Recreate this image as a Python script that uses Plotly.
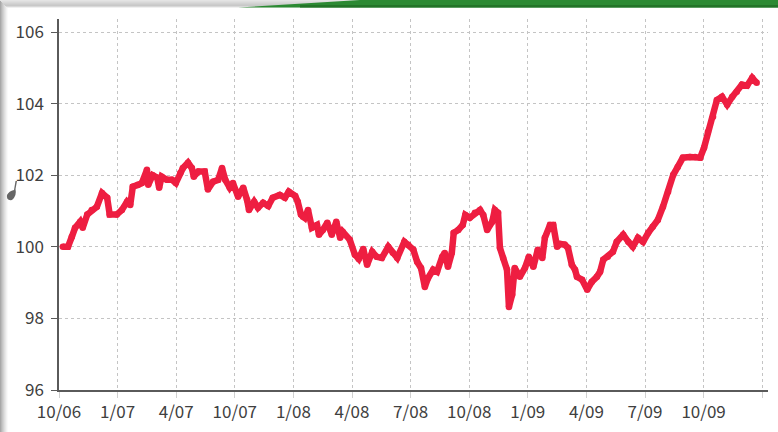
import plotly.graph_objects as go

# Index level, sampled along the period (day offset from the 10/06 start)
day = [6, 14, 20, 25, 33, 37, 44, 51, 59, 67, 75, 79, 90, 98, 106, 111, 115, 123, 129, 137,
       139, 146, 153, 156, 160, 168, 176, 182, 189, 193, 201, 207, 210, 217, 227, 232, 240, 248,
       254, 259, 266, 271, 279, 287, 293, 296, 304, 310, 318, 326, 333, 344, 352, 358, 368, 372,
       377, 380, 383, 388, 394, 402, 405, 411, 418, 425, 432, 438, 442, 453, 461, 467, 474, 480,
       488, 495, 503, 513, 520, 527, 538, 544, 552, 558, 564, 570, 575, 583, 589, 597, 601, 606,
       612, 615, 622, 629, 633, 640, 648, 656, 661, 667, 675, 679, 684, 687, 692, 698, 701, 706,
       710, 718, 726, 732, 739, 746, 753, 757, 765, 770, 776, 781, 788, 793, 799, 804, 807, 815,
       823, 830, 838, 843, 848, 855, 863, 869, 879, 887, 894, 902, 910, 918, 925, 933, 941, 949,
       957, 964, 972, 983, 991, 999, 1005, 1011, 1019, 1025, 1033, 1041, 1049, 1056, 1064, 1072,
       1080, 1087]
index_value = [100.0, 100.0, 100.28, 100.53, 100.70, 100.53, 100.9, 101.03, 101.12, 101.5,
               101.37, 100.9, 100.9, 101.03, 101.26, 101.17, 101.68, 101.73, 101.78, 102.15,
               101.73, 102.0, 101.93, 101.65, 101.96, 101.87, 101.87, 101.78, 102.06, 102.2,
               102.35, 102.2, 101.96, 102.1, 102.1, 101.6, 101.82, 101.87, 102.2, 101.87,
               101.65, 101.78, 101.4, 101.65, 101.31, 101.03, 101.26, 101.09, 101.23, 101.14,
               101.37, 101.45, 101.37, 101.54, 101.42, 101.26, 100.9, 100.84, 100.81, 101.03,
               100.53, 100.61, 100.34, 100.47, 100.67, 100.34, 100.70, 100.25, 100.42, 100.2,
               99.78, 99.66, 99.94, 99.5, 99.86, 99.72, 99.69, 100.0, 99.83, 99.69,
               100.14, 100.06, 99.92, 99.58, 99.41, 98.88, 99.13, 99.36, 99.30, 99.72,
               99.83, 99.44, 99.83, 100.39, 100.47, 100.61, 100.89, 100.81, 100.95, 101.03,
               100.89, 100.47, 100.7, 101.03, 100.95, 99.97, 99.69, 99.36, 98.32, 98.66,
               99.41, 99.16, 99.41, 99.72, 99.44, 99.92, 99.69, 100.25, 100.61, 100.61,
               100.0, 100.08, 100.06, 99.97, 99.5, 99.36, 99.16, 99.08, 98.8, 99.02,
               99.16, 99.3, 99.64, 99.72, 99.86, 100.14, 100.34, 100.14, 100.0, 100.25,
               100.14, 100.39, 100.56, 100.75, 101.12, 101.54, 102.01, 102.23, 102.49, 102.51,
               102.51, 102.49, 102.77, 103.21, 103.63, 104.1, 104.19, 103.97, 104.19, 104.33,
               104.53, 104.5, 104.72, 104.58]

quarter_days = 91.3
tick_labels = ["10/06", "1/07", "4/07", "10/07", "1/08", "4/08", "7/08", "10/08",
               "1/09", "4/09", "7/09", "10/09", ""]
y_ticks = [96, 98, 100, 102, 104, 106]

W, H = 778, 432
L, R, T, B = 59, 10, 19, 42
plot_w, plot_h = W - L - R, H - T - B


def px(x):
    return (x - L) / plot_w


def py(y):
    return (H - B - y) / plot_h


line_red = "#EE1E41"
fig = go.Figure(go.Scatter(
    x=day, y=index_value, mode="lines+markers",
    line=dict(color=line_red, width=6.5),
    marker=dict(color=line_red, size=6.5, line=dict(width=0)),
    hoverinfo="skip", showlegend=False,
))

shapes = []
# page shadow along the left edge and top edge
for i, c in enumerate(["#a8a8a8", "#b8b8b8", "#c6c6c6", "#d2d2d2", "#dedede", "#e8e8e8", "#f2f2f2", "#fafafa"]):
    shapes.append(dict(type="rect", xref="paper", yref="paper", layer="below",
                       x0=px(i), x1=px(i + 1), y0=py(432), y1=py(0),
                       line=dict(width=0), fillcolor=c))
for i, c in enumerate(["#e4e4e4", "#dedede", "#d8d8d8", "#d2d2d2", "#cccccc", "#c8c8c8", "#d8d8d8", "#f0f0f0"]):
    shapes.append(dict(type="rect", xref="paper", yref="paper", layer="below",
                       x0=px(i), x1=px(360), y0=py(i + 1), y1=py(i),
                       line=dict(width=0), fillcolor=c))
# green banner at the top right
shapes.append(dict(type="path", xref="paper", yref="paper",
                   path=f"M {px(238)},{py(7.5)} L {px(360)},{py(0)} L {px(778)},{py(0)} "
                        f"L {px(778)},{py(7.5)} Z",
                   line=dict(width=0), fillcolor="#2c8a33"))
shapes.append(dict(type="rect", xref="paper", yref="paper",
                   x0=px(300), x1=px(778), y0=py(7.5), y1=py(5),
                   line=dict(width=0), fillcolor="#237428"))
# small grey curl on the left border
shapes.append(dict(type="path", xref="paper", yref="paper",
                   path=f"M {px(17)},{py(181)} L {px(15.5)},{py(189)} "
                        f"Q {px(17)},{py(196)} {px(12)},{py(200)} "
                        f"Q {px(6)},{py(201)} {px(7)},{py(195)} "
                        f"Q {px(9)},{py(191)} {px(14)},{py(190)} "
                        f"L {px(15.5)},{py(181)} Z",
                   line=dict(width=0), fillcolor="#666666"))

font = "Noto Sans CJK JP, Noto Sans, sans-serif"

fig.update_layout(
    width=W, height=H,
    margin=dict(l=L, r=R, t=T, b=B),
    paper_bgcolor="white", plot_bgcolor="white",
    shapes=shapes,
    font=dict(family=font, size=17, color="#404040"),
    xaxis=dict(
        range=[0, plot_w / 58.6 * quarter_days],
        tickvals=[i * quarter_days for i in range(13)],
        ticktext=tick_labels,
        showgrid=True, gridcolor="#c4c4c4", griddash="dot", gridwidth=1,
        ticks="outside", ticklen=6, tickcolor="#d0d0d0",
        showline=True, linecolor="#5a5a5a", linewidth=1.5,
        zeroline=False, fixedrange=True,
    ),
    yaxis=dict(
        range=[96, 96 + plot_h / 35.8],
        tickvals=y_ticks,
        showgrid=True, gridcolor="#c4c4c4", griddash="dot", gridwidth=1,
        ticks="outside", ticklen=6, tickcolor="#5a5a5a",
        ticklabelstandoff=4,
        showline=True, linecolor="#5a5a5a", linewidth=1.5,
        zeroline=False, fixedrange=True,
    ),
)

fig.write_html("out.html")
